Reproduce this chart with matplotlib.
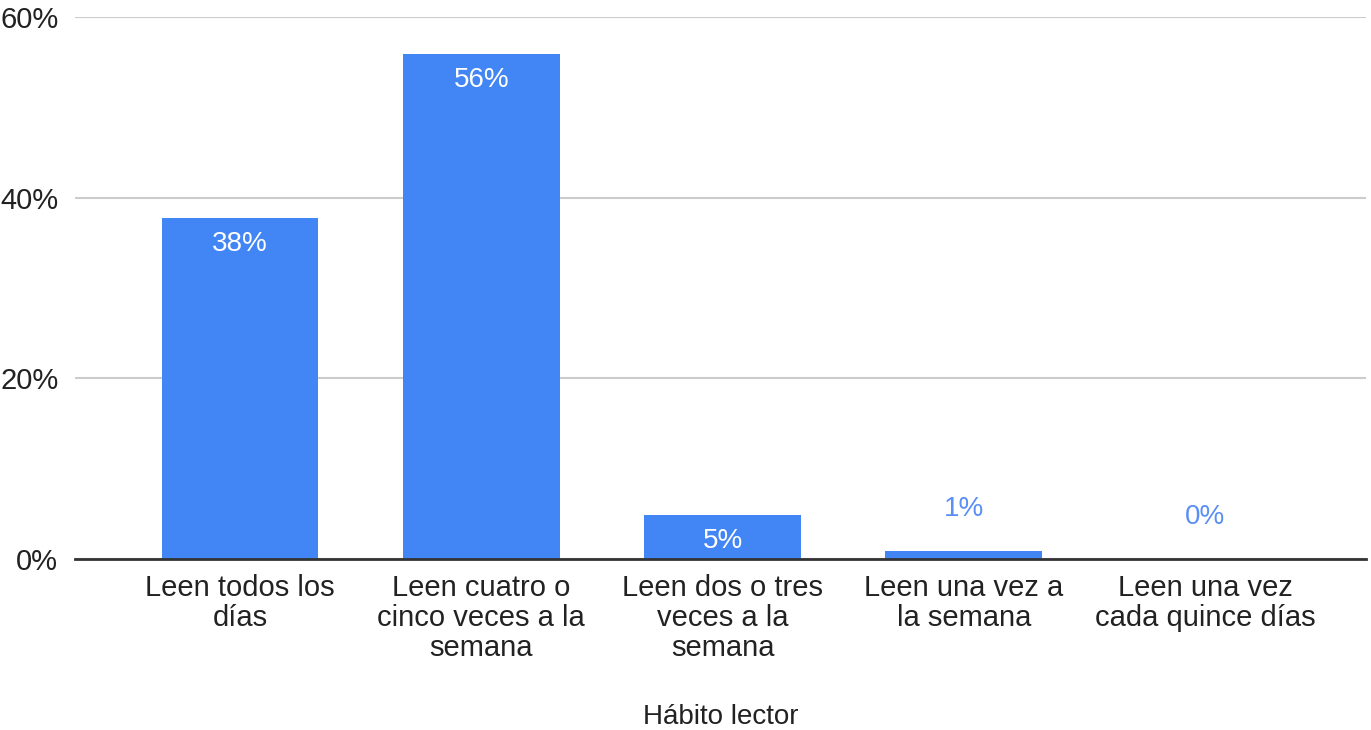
import matplotlib
matplotlib.use("Agg")
import matplotlib.pyplot as plt
from matplotlib.ticker import FuncFormatter

categories = ["Leen todos los\ndías", "Leen cuatro o\ncinco veces a la\nsemana",
              "Leen dos o tres\nveces a la\nsemana", "Leen una vez a\nla semana",
              "Leen una vez\ncada quince días"]
values = [0.378, 0.559, 0.049, 0.009, 0.0]
labels = ["38%", "56%", "5%", "1%", "0%"]
yticks = [0, 0.2, 0.4, 0.6]

plt.rcParams['font.family'] = ['Liberation Sans', 'DejaVu Sans']
fig = plt.figure(figsize=(13.71, 7.30), dpi=100)
ax = fig.add_axes([75/1371, 1-559/730, (1366-75)/1371, (559-17)/730])

bar_color = "#4285F4"
x = list(range(len(categories)))
ax.bar(x, values, width=0.65, color=bar_color, zorder=3)

ax.set_ylim(0, 0.6)
ax.set_xlim(-0.684, 4.667)
ax.set_yticks(yticks)
ax.yaxis.set_major_formatter(FuncFormatter(lambda v, p: f"{v*100:.0f}%"))
ax.grid(axis='y', color='#cccccc', linewidth=1.5, zorder=0)
ax.set_xticks(x)
ax.set_xticklabels(categories, fontsize=21, color='#222222', linespacing=1.09)
ax.tick_params(axis='x', length=0, pad=11)
ax.tick_params(axis='y', length=0, pad=12, labelsize=21, labelcolor='#222222')
for s in ['top', 'right', 'left']:
    ax.spines[s].set_visible(False)
ax.spines['bottom'].set_color('#333333')
ax.spines['bottom'].set_linewidth(2)
ax.spines['bottom'].set_zorder(4)

ax.set_xlabel("Hábito lector", fontsize=20, color='#222222', labelpad=30)

for xi, v, lab in zip(x, values, labels):
    if v > 0.03:
        ax.annotate(lab, (xi, v), xytext=(0, -19), textcoords='offset points',
                    ha='center', va='center', color='white', fontsize=20, zorder=5)
    else:
        ax.annotate(lab, (xi, v), xytext=(0, 30), textcoords='offset points',
                    ha='center', va='center', color='#5b8ff5', fontsize=20, zorder=5)

fig.savefig("out.png", dpi=100)
